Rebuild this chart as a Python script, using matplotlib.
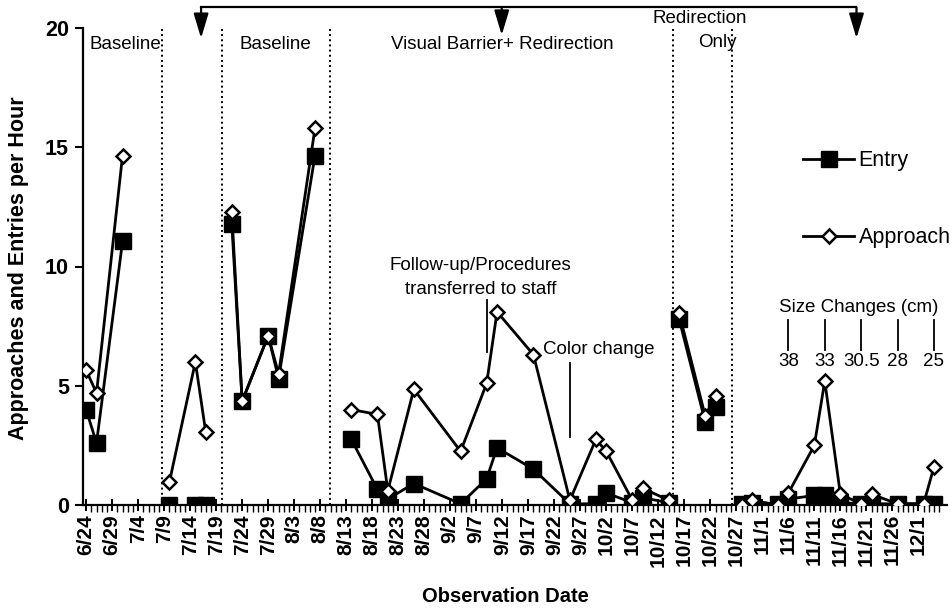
import datetime
import numpy as np
import matplotlib
matplotlib.use("Agg")
import matplotlib.pyplot as plt

plt.rcParams['font.family'] = ['Liberation Sans', 'DejaVu Sans']

YEAR = 2001
START = '6/24'

# sessions (month/day) and rates per hour
obs_dates = ['6/24', '6/26', '7/1',
             '7/10', '7/15', '7/17',
             '7/22', '7/24', '7/29', '7/31', '8/7',
             '8/14', '8/19', '8/21', '8/26', '9/4', '9/9', '9/11', '9/18',
             '9/25', '9/30', '10/2', '10/7', '10/9', '10/14',
             '10/16', '10/21', '10/23',
             '10/28', '10/30', '11/4', '11/6', '11/11', '11/13', '11/16',
             '11/20', '11/22', '11/27', '12/2', '12/4']
entry = [4.0, 2.6, 11.05,
         0, 0, 0,
         11.8, 4.35, 7.1, 5.3, 14.65,
         2.75, 0.65, 0.25, 0.9, 0.05, 1.1, 2.4, 1.5,
         0.05, 0.05, 0.5, 0.1, 0.3, 0.1,
         7.8, 3.5, 4.1,
         0.05, 0.1, 0.05, 0.25, 0.4, 0.4, 0.1,
         0.05, 0.05, 0.05, 0.05, 0.05]
approach = [5.65, 4.7, 14.65,
            0.95, 6.0, 3.05,
            12.3, 4.35, 7.1, 5.5, 15.8,
            4.0, 3.8, 0.6, 4.85, 2.25, 5.1, 8.1, 6.3,
            0.2, 2.75, 2.25, 0.2, 0.7, 0.2,
            8.05, 3.75, 4.55,
            0.0, 0.2, 0.0, 0.5, 2.5, 5.2, 0.45,
            0.05, 0.45, 0.05, 0.05, 1.6]

# phase change lines (days after 6/24) and phase titles
phase_lines = [14.55, 26.1, 46.9, 112.9, 124.2]
phase_names = ['Baseline', 'Baseline', 'Visual Barrier+ Redirection']
phase_name_days = [7.5, 36.3, 80]

size_days = ['11/6', '11/13', '11/20', '11/27', '12/4']
size_labels = ['38', '33', '30.5', '28', '25']


def day_of(md):
    m, d = md.split('/')
    sm, sd = START.split('/')
    return (datetime.date(YEAR, int(m), int(d)) - datetime.date(YEAR, int(sm), int(sd))).days


days = np.array([day_of(s) for s in obs_dates])
entry = np.array(entry)
approach = np.array(approach)
phase = np.digitize(days, phase_lines)

fig = plt.figure(figsize=(9.53, 6.09), dpi=100)
ax = fig.add_axes([83 / 953, 1 - 505 / 609, 864 / 953, 477 / 609])

for p in np.unique(phase):
    m = phase == p
    le, = ax.plot(days[m], entry[m], color='k', lw=2, marker='s', ms=11,
                  mfc='k', mec='k', zorder=3)
    la, = ax.plot(days[m], approach[m], color='k', lw=2, marker='D', ms=7,
                  mfc='white', mec='k', mew=1.8, zorder=4)

ax.vlines(phase_lines, 0, 20, colors='k', linestyles=':', lw=1.4, zorder=1)

ax.set_xlim(-0.6, 165.5)
ax.set_ylim(0, 20)
for s in ['top', 'right']:
    ax.spines[s].set_visible(False)
for s in ['left', 'bottom']:
    ax.spines[s].set_linewidth(1.6)

major = np.arange(0, 161, 5)
ax.set_xticks(major)
ax.set_xticks(np.arange(0, 165, 1), minor=True)
labels = [(datetime.date(YEAR, 6, 24) + datetime.timedelta(days=int(d))) for d in major]
ax.set_xticklabels(['%d/%d' % (l.month, l.day) for l in labels], rotation=90,
                   fontweight='bold', fontsize=15)
ax.set_yticks([0, 5, 10, 15, 20])
ax.set_yticklabels(['0', '5', '10', '15', '20'], fontweight='bold', fontsize=15.5)
ax.tick_params(axis='x', which='major', direction='inout', length=9, width=1.4, pad=2)
ax.tick_params(axis='x', which='minor', direction='out', length=5, width=1)
ax.tick_params(axis='y', direction='out', length=6, width=1.5, pad=4)

fig.text(505 / 953, 1 - 597 / 609, 'Observation Date', ha='center', va='center',
         fontsize=14.5, fontweight='bold')
fig.text(19 / 953, 1 - 268 / 609, 'Approaches and Entries per Hour', ha='center',
         va='center', rotation=90, fontsize=15.5, fontweight='bold')

# phase titles
for name, d in zip(phase_names, phase_name_days):
    ax.text(d, 19.3, name, ha='center', va='center', fontsize=13.5)
ax.text(118, 20.4, 'Redirection', ha='center', va='center', fontsize=13.5, clip_on=False)
ax.text(121.3, 19.4, 'Only', ha='center', va='center', fontsize=13.5)

# bracket with arrows linking the same condition
ax.plot([22.1, 148.1], [20.86, 20.86], color='k', lw=1.6, clip_on=False)
for x, tip in [(22.1, 19.57), (79.9, 19.7), (148.1, 19.57)]:
    ax.annotate('', xy=(x, tip), xytext=(x, 20.86), annotation_clip=False,
                arrowprops=dict(arrowstyle='-|>,head_length=1.5,head_width=0.45',
                                color='k', lw=1.6, shrinkA=0, shrinkB=0))

# notes
ax.text(75.8, 10.06, 'Follow-up/Procedures', ha='center', va='center', fontsize=13.5)
ax.text(75.8, 9.05, 'transferred to staff', ha='center', va='center', fontsize=13.5)
ax.plot([77, 77], [6.41, 8.59], color='k', lw=1.3)
ax.text(87.9, 6.5, 'Color change', ha='left', va='center', fontsize=13.5)
ax.plot([93, 93], [2.85, 5.95], color='k', lw=1.3)
ax.text(148.5, 8.26, 'Size Changes (cm)', ha='center', va='center', fontsize=13.5)
for md, lab in zip(size_days, size_labels):
    d = day_of(md)
    ax.plot([d, d], [6.5, 7.75], color='k', lw=1.3)
    ax.text(d, 6.0, lab, ha='center', va='center', fontsize=13.5)

ax.legend([le, la], ['Entry', 'Approach'], loc='upper left',
          bbox_to_anchor=(0.833, 0.744), frameon=False, fontsize=15.5,
          handlelength=2.4, handletextpad=0.2, labelspacing=2.6, numpoints=1,
          borderaxespad=0, borderpad=0)

fig.savefig('out.png', dpi=100)
